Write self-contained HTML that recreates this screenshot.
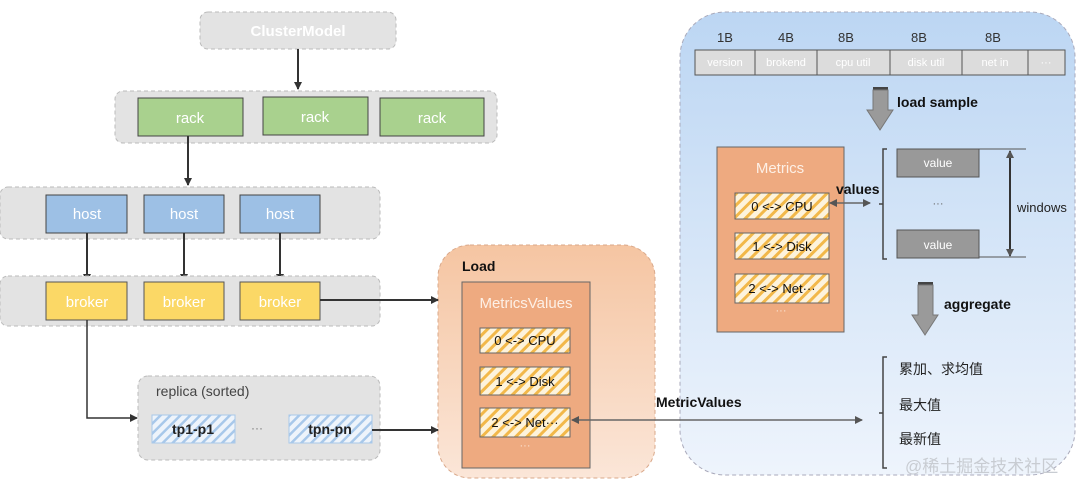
<!DOCTYPE html>
<html><head><meta charset="utf-8"><style>
html,body{margin:0;padding:0;background:#fff;}
body{width:1080px;height:491px;overflow:hidden;position:relative;font-family:"Liberation Sans","Noto Sans CJK SC",sans-serif;}
svg{position:absolute;left:0;top:0;}
</style></head><body>
<svg width="1080" height="491" viewBox="0 0 1080 491" xmlns="http://www.w3.org/2000/svg" font-family="Liberation Sans, Noto Sans CJK SC, sans-serif">
<defs>
<pattern id="ys" width="8" height="8" patternUnits="userSpaceOnUse" patternTransform="rotate(45)">
<rect width="8" height="8" fill="#fdf3dc"/><rect width="3" height="8" fill="#f2b84a"/></pattern>
<pattern id="bs" width="7" height="7" patternUnits="userSpaceOnUse" patternTransform="rotate(45)">
<rect width="7" height="7" fill="#eef4fb"/><rect width="2.5" height="7" fill="#a8c8ea"/></pattern>
<linearGradient id="bg" x1="0" y1="0" x2="0" y2="1"><stop offset="0" stop-color="#bcd6f3"/><stop offset="1" stop-color="#eef4fc"/></linearGradient>
<linearGradient id="og" x1="0" y1="0" x2="0" y2="1"><stop offset="0" stop-color="#f5c5a2"/><stop offset="1" stop-color="#fbe6d8"/></linearGradient>
<marker id="ar" markerWidth="8" markerHeight="8" refX="7" refY="4" orient="auto" markerUnits="userSpaceOnUse"><path d="M0,0 L8,4 L0,8 z" fill="#333"/></marker>
<marker id="ar2" markerWidth="8" markerHeight="8" refX="7" refY="4" orient="auto-start-reverse" markerUnits="userSpaceOnUse"><path d="M0,0 L8,4 L0,8 z" fill="#555"/></marker>
</defs>

<rect x="680" y="12" width="395" height="463" rx="45" fill="url(#bg)" stroke="#aab" stroke-dasharray="4,3"/>
<rect x="438" y="245" width="217" height="233" rx="32" fill="url(#og)" stroke="#d9a88a" stroke-dasharray="4,3"/>

<rect x="200" y="12" width="196" height="37" rx="8" fill="#e3e3e3" stroke="#bbb" stroke-dasharray="4,3"/>
<text x="298" y="36" text-anchor="middle" font-size="15" font-weight="bold" fill="#fff">ClusterModel</text>
<line x1="298" y1="49" x2="298" y2="89" stroke="#333" stroke-width="2" marker-end="url(#ar)"/>

<rect x="115" y="91" width="382" height="52" rx="8" fill="#e3e3e3" stroke="#bbb" stroke-dasharray="4,3"/>
<g fill="#a9d18e" stroke="#444" stroke-width="1">
<rect x="138" y="98" width="105" height="38"/><rect x="263" y="97" width="105" height="38"/><rect x="380" y="98" width="104" height="38"/></g>
<g font-size="15" fill="#fff" text-anchor="middle"><text x="190" y="123">rack</text><text x="315" y="122">rack</text><text x="432" y="123">rack</text></g>
<line x1="188" y1="136" x2="188" y2="185" stroke="#333" stroke-width="2" marker-end="url(#ar)"/>

<rect x="0" y="187" width="380" height="52" rx="8" fill="#e3e3e3" stroke="#bbb" stroke-dasharray="4,3"/>
<g fill="#9dc0e5" stroke="#444"><rect x="46" y="195" width="81" height="38"/><rect x="144" y="195" width="80" height="38"/><rect x="240" y="195" width="80" height="38"/></g>
<g font-size="15" fill="#fff" text-anchor="middle"><text x="87" y="219">host</text><text x="184" y="219">host</text><text x="280" y="219">host</text></g>
<g stroke="#333" stroke-width="2"><line x1="87" y1="233" x2="87" y2="281" marker-end="url(#ar)"/><line x1="184" y1="233" x2="184" y2="281" marker-end="url(#ar)"/><line x1="280" y1="233" x2="280" y2="281" marker-end="url(#ar)"/></g>

<rect x="0" y="276" width="380" height="50" rx="8" fill="#e3e3e3" stroke="#bbb" stroke-dasharray="4,3"/>
<g fill="#fbd866" stroke="#555"><rect x="46" y="282" width="81" height="38"/><rect x="144" y="282" width="80" height="38"/><rect x="240" y="282" width="80" height="38"/></g>
<g font-size="15" fill="#fff" text-anchor="middle"><text x="87" y="307">broker</text><text x="184" y="307">broker</text><text x="280" y="307">broker</text></g>
<line x1="320" y1="300" x2="438" y2="300" stroke="#333" stroke-width="2" marker-end="url(#ar)"/>
<polyline points="87,320 87,418 137,418" fill="none" stroke="#333" stroke-width="1.5" marker-end="url(#ar)"/>

<rect x="138" y="376" width="242" height="84" rx="10" fill="#e3e3e3" stroke="#bbb" stroke-dasharray="4,3"/>
<text x="156" y="396" font-size="14" fill="#444">replica (sorted)</text>
<rect x="152" y="415" width="83" height="28" fill="url(#bs)" stroke="#a8c8ea"/>
<rect x="289" y="415" width="83" height="28" fill="url(#bs)" stroke="#a8c8ea"/>
<g font-size="14" font-weight="bold" fill="#222" text-anchor="middle"><text x="193" y="434">tp1-p1</text><text x="330" y="434">tpn-pn</text></g>
<text x="257" y="432" font-size="12" fill="#777" text-anchor="middle">···</text>
<line x1="372" y1="430" x2="438" y2="430" stroke="#333" stroke-width="2" marker-end="url(#ar)"/>

<text x="462" y="271" font-size="14" font-weight="bold" fill="#111">Load</text>
<rect x="462" y="282" width="128" height="186" fill="#eeaa80" stroke="#666"/>
<text x="526" y="308" font-size="15" fill="#fdf0e6" text-anchor="middle">MetricsValues</text>
<g stroke="#666"><rect x="480" y="328" width="90" height="25" fill="url(#ys)"/><rect x="480" y="367" width="90" height="28" fill="url(#ys)"/><rect x="480" y="408" width="90" height="29" fill="url(#ys)"/></g>
<g font-size="13" fill="#111" text-anchor="middle"><text x="525" y="345">0 &lt;-&gt; CPU</text><text x="525" y="386">1 &lt;-&gt; Disk</text><text x="525" y="427">2 &lt;-&gt; Net···</text></g>
<text x="525" y="449" font-size="11" fill="#fbe3d2" text-anchor="middle">···</text>

<line x1="572" y1="420" x2="862" y2="420" stroke="#666" stroke-width="1.5" marker-start="url(#ar2)" marker-end="url(#ar2)"/>
<text x="656" y="407" font-size="14" font-weight="bold" fill="#111">MetricValues</text>

<g font-size="13" fill="#333" text-anchor="middle"><text x="725" y="42">1B</text><text x="786" y="42">4B</text><text x="846" y="42">8B</text><text x="919" y="42">8B</text><text x="993" y="42">8B</text></g>
<g fill="#dcdcdc" stroke="#555"><rect x="695" y="50" width="60" height="25"/><rect x="755" y="50" width="62" height="25"/><rect x="817" y="50" width="73" height="25"/><rect x="890" y="50" width="72" height="25"/><rect x="962" y="50" width="66" height="25"/><rect x="1028" y="50" width="37" height="25"/></g>
<g font-size="11" fill="#fff" text-anchor="middle"><text x="725" y="66">version</text><text x="786" y="66">brokend</text><text x="853" y="66">cpu util</text><text x="926" y="66">disk util</text><text x="995" y="66">net in</text><text x="1046" y="66">···</text></g>

<rect x="873" y="87" width="15" height="3" fill="#444"/>
<path d="M873,90 H888 V110 H893 L880,130 L867,110 H873 Z" fill="#9a9a9a" stroke="#777"/>
<text x="897" y="107" font-size="14" font-weight="bold" fill="#111">load sample</text>

<rect x="717" y="147" width="127" height="185" fill="#eeaa80" stroke="#666"/>
<text x="780" y="173" font-size="15" fill="#fdf0e6" text-anchor="middle">Metrics</text>
<g stroke="#666"><rect x="735" y="193" width="94" height="26" fill="url(#ys)"/><rect x="735" y="233" width="94" height="26" fill="url(#ys)"/><rect x="735" y="274" width="94" height="29" fill="url(#ys)"/></g>
<g font-size="13" fill="#111" text-anchor="middle"><text x="782" y="211">0 &lt;-&gt; CPU</text><text x="782" y="251">1 &lt;-&gt; Disk</text><text x="782" y="293">2 &lt;-&gt; Net···</text></g>
<text x="781" y="314" font-size="11" fill="#fbe3d2" text-anchor="middle">···</text>
<line x1="830" y1="203" x2="870" y2="203" stroke="#666" stroke-width="1.5" marker-start="url(#ar2)" marker-end="url(#ar2)"/>
<text x="836" y="194" font-size="14" font-weight="bold" fill="#111">values</text>

<path d="M887,149 H883 V259 H887 M883,204 H879" fill="none" stroke="#444" stroke-width="1.5"/>
<g fill="#999" stroke="#555"><rect x="897" y="149" width="82" height="28"/><rect x="897" y="230" width="82" height="28"/></g>
<g font-size="12" fill="#fff" text-anchor="middle"><text x="938" y="167">value</text><text x="938" y="249">value</text></g>
<text x="938" y="207" font-size="11" fill="#666" text-anchor="middle">···</text>
<g stroke="#555" stroke-width="1"><line x1="979" y1="149" x2="1026" y2="149"/><line x1="979" y1="257" x2="1026" y2="257"/></g>
<line x1="1010" y1="151" x2="1010" y2="256" stroke="#333" stroke-width="2" marker-start="url(#ar2)" marker-end="url(#ar2)"/>
<text x="1017" y="212" font-size="13" fill="#222">windows</text>

<rect x="918" y="282" width="15" height="3" fill="#444"/>
<path d="M918,285 H933 V315 H938 L925,335 L912,315 H918 Z" fill="#9a9a9a" stroke="#777"/>
<text x="944" y="309" font-size="14" font-weight="bold" fill="#111">aggregate</text>

<path d="M887,357 H883 V468 H887 M883,413 H879" fill="none" stroke="#444" stroke-width="1.5"/>
<g font-size="14" fill="#222"><text x="899" y="374">累加、求均值</text><text x="899" y="410">最大值</text><text x="899" y="444">最新值</text></g>
<text x="905" y="472" font-size="17" fill="#c8ccd2">@稀土掘金技术社区</text>
</svg>
</body></html>
